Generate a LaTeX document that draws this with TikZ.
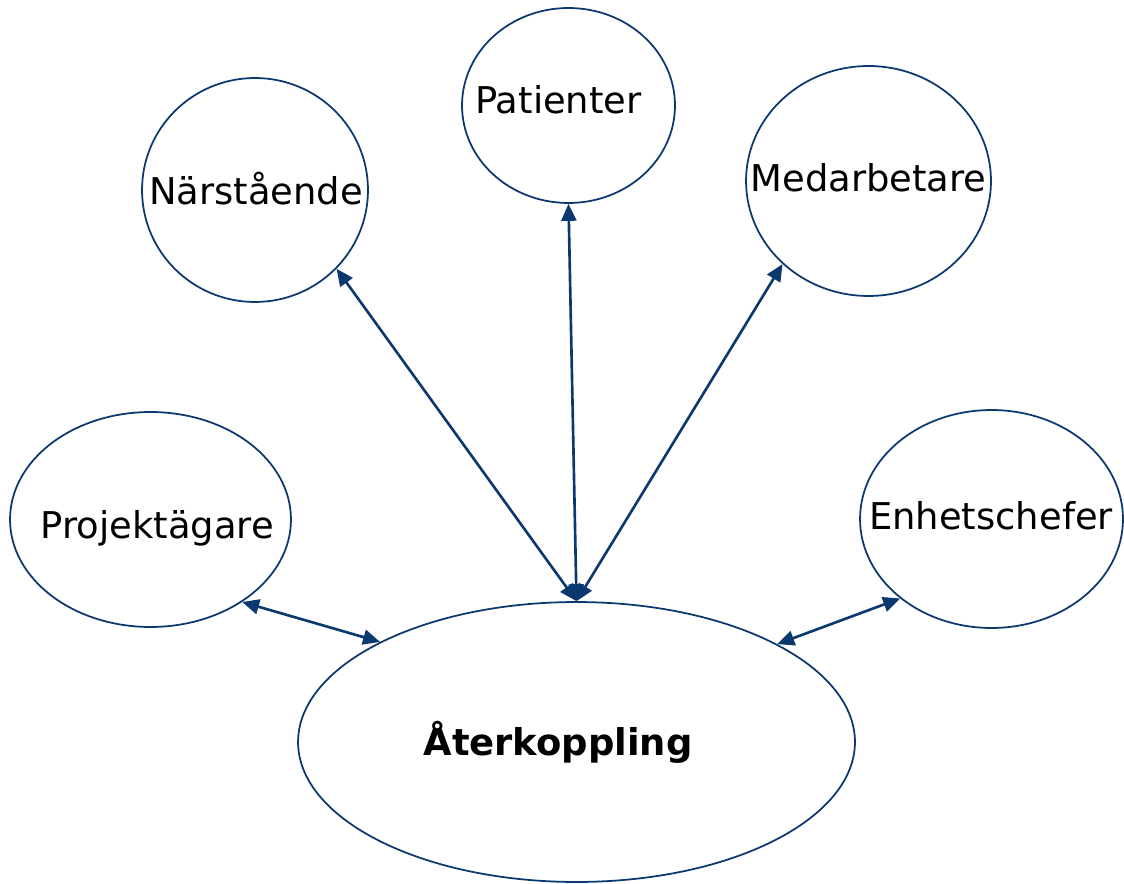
\documentclass[tikz,border=0pt]{standalone}
\usepackage{fontspec}
\setmainfont{DejaVu Sans}
\usetikzlibrary{shapes.geometric,arrows.meta}
\definecolor{navy}{RGB}{12,56,112}
\tikzset{
  bubble/.style={ellipse, draw=navy, line width=1pt, inner sep=0pt},
  lbl/.style={anchor=base, inner sep=0pt, font=\fontsize{21pt}{25pt}\selectfont},
  link/.style={draw=navy, line width=1.5pt, {Triangle[length=0.34cm,width=0.3cm]}-{Triangle[length=0.34cm,width=0.3cm]}}
}
\begin{document}
\begin{tikzpicture}[x=0.02cm, y=-0.02cm]
\useasboundingbox (0,0) rectangle (1124,884);
% ellipses
\node[bubble, minimum width=4.52cm, minimum height=4.48cm] (nar) at (255,190) {};
\node[bubble, minimum width=4.26cm, minimum height=3.9cm] (pat) at (568.5,105.5) {};
\node[bubble, minimum width=4.9cm, minimum height=4.6cm] (med) at (868.5,181) {};
\node[bubble, minimum width=5.62cm, minimum height=4.3cm] (pro) at (150.5,519.5) {};
\node[bubble, minimum width=5.26cm, minimum height=4.36cm] (enh) at (991.5,519) {};
\node[bubble, minimum width=11.14cm, minimum height=5.6cm] (ater) at (576.5,742) {};
% labels
\node[lbl] (tnar) at (256,205) {Närstående};
\node[lbl] (tpat) at (558.5,114) {Patienter};
\node[lbl] (tmed) at (868.5,192) {Medarbetare};
\node[lbl] (tpro) at (157.5,538) {Projektägare};
\node[lbl] (tenh) at (991,529) {Enhetschefer};
\node[lbl, font=\fontsize{21pt}{25pt}\selectfont\bfseries] (tater) at (558,755) {Återkoppling};
% connectors
\draw[link] (ater.north) -- (nar.-44);
\draw[link] (ater.north) -- (pat.south);
\draw[link] (ater.north) -- (med.-136.5);
\draw[link] (ater.153.5) -- (pro.-42);
\draw[link] (ater.26.7) -- (enh.-139.9);
\end{tikzpicture}
\end{document}
